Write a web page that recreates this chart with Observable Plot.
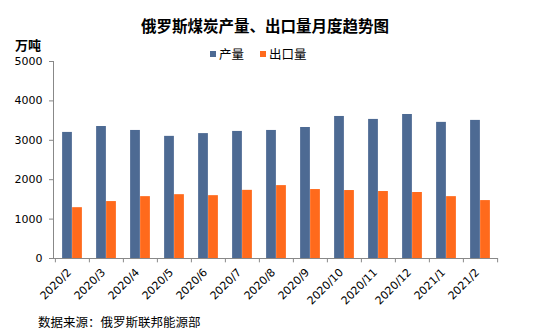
<!DOCTYPE html>
<html>
<head>
<meta charset="utf-8">
<script src="https://cdn.jsdelivr.net/npm/d3@7"></script>
<script src="https://cdn.jsdelivr.net/npm/@observablehq/plot@0.6"></script>
<style>
  html, body { margin: 0; padding: 0; background: #fff; }
  #wrap { position: relative; width: 537px; height: 331px; overflow: hidden; font-family: "Noto Sans CJK SC", sans-serif; }
  #wrap svg { position: absolute; left: 0; top: 0; }
  .abs { position: absolute; white-space: nowrap; color: #000; }
  .title { left: 0; width: 530px; text-align: center; top: 14px; font-size: 15.5px; font-weight: bold; }
  .unit { left: 15px; top: 35px; font-size: 13px; font-weight: bold; }
  .legend { top: 44px; font-size: 12.5px; display: flex; align-items: center; }
  .sw { display: inline-block; width: 6px; height: 6px; margin-right: 3px; }
  .caption { left: 38px; top: 312px; font-size: 12.5px; }
</style>
</head>
<body>
<div id="wrap">
  <div class="abs title">俄罗斯煤炭产量、出口量月度趋势图</div>
  <div class="abs unit">万吨</div>
  <div class="abs legend" style="left:210px"><span class="sw" style="background:#4D6A93"></span>产量</div>
  <div class="abs legend" style="left:260px"><span class="sw" style="background:#FF6A1C"></span>出口量</div>
  <div class="abs caption">数据来源：俄罗斯联邦能源部</div>
</div>
<script>
const months = ["2020/2","2020/3","2020/4","2020/5","2020/6","2020/7","2020/8","2020/9","2020/10","2020/11","2020/12","2021/1","2021/2"];
const production = [3200, 3350, 3250, 3100, 3170, 3225, 3250, 3325, 3605, 3530, 3655, 3455, 3505];
const exports = [1290, 1445, 1570, 1620, 1595, 1730, 1850, 1750, 1725, 1700, 1675, 1570, 1470];
const seriesNames = ["产量", "出口量"];
const yTicks = [0, 1000, 2000, 3000, 4000, 5000];

const W = 537, H = 331, mL = 53, mR = 39, mT = 61, mB = 73;
const bw = (W - mL - mR) / months.length;
const barW = 10;
const side = (bw - 2 * barW) / 2;

const prodData = months.map((m, i) => ({month: m, value: production[i], series: seriesNames[0]}));
const expData = months.map((m, i) => ({month: m, value: exports[i], series: seriesNames[1]}));
const boundaries = months.map((m) => ({month: m, dx: -bw / 2})).concat([{month: months[months.length - 1], dx: bw / 2}]);

const chart = Plot.plot({
  width: W, height: H,
  marginLeft: mL, marginRight: mR, marginTop: mT, marginBottom: mB,
  style: {fontFamily: "DejaVu Sans, sans-serif", fontSize: "10.5px", color: "#000", background: "transparent"},
  x: {domain: months, padding: 0, label: null},
  y: {domain: [0, 5000], label: null},
  marks: [
    Plot.barY(prodData, {x: "month", y: "value", fill: "#4D6A93", insetLeft: side, insetRight: side + barW}),
    Plot.barY(expData, {x: "month", y: "value", fill: "#FF6A1C", insetLeft: side + barW, insetRight: side}),
    Plot.ruleY([0], {stroke: "#888", strokeWidth: 1}),
    Plot.frame({anchor: "left", stroke: "#888"}),
    Plot.axisY({ticks: yTicks, tickSize: 4, tickPadding: 7, stroke: "#888", tickFormat: d => String(d), fontSize: "11px"}),
    ...boundaries.map(b => Plot.ruleX([b.month], {dx: b.dx, y1: 0, y2: -110, stroke: "#888"})),
    Plot.axisX({tickSize: 0, tickRotate: -45, tickPadding: 12, dx: -3, fontSize: "11px"})
  ]
});
document.getElementById("wrap").prepend(chart);
</script>
</body>
</html>
